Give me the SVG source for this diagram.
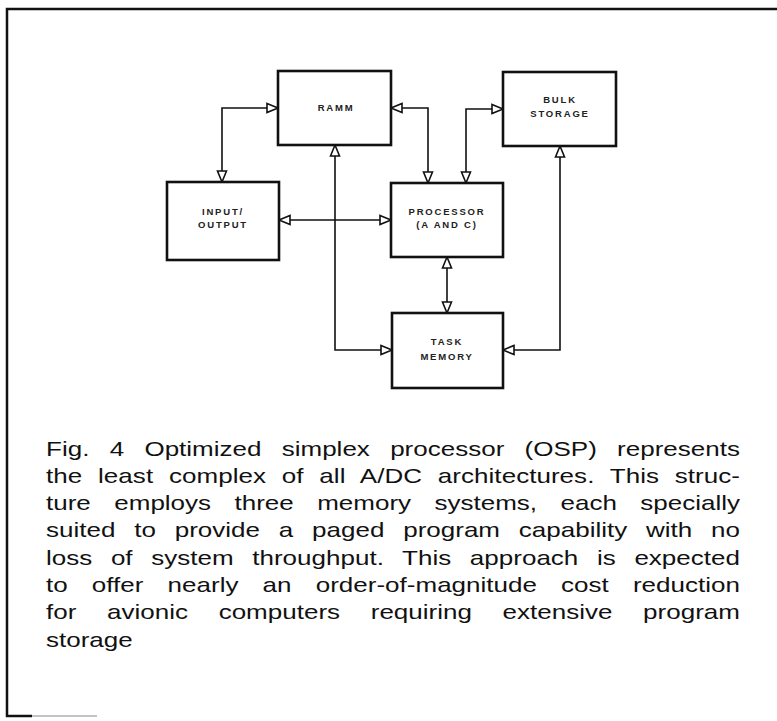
<svg xmlns="http://www.w3.org/2000/svg" width="777" height="721" viewBox="0 0 777 721">
<style>
.box{fill:#fff;stroke:#111;stroke-width:2.6}
.lbl{font-family:"Liberation Sans",Arial,sans-serif;font-size:9.5px;font-weight:bold;letter-spacing:1.8px;fill:#222;text-anchor:middle}
.conn{fill:none;stroke:#111;stroke-width:1.6;marker-start:url(#arr);marker-end:url(#arr)}
.cap{font-family:"Liberation Sans",Arial,sans-serif;font-size:20px;fill:#111}
.frame{fill:none;stroke:#111;stroke-width:2.5}
</style>
<defs>
<marker id="arr" viewBox="-1 -1 13 12" refX="11" refY="5" markerWidth="13" markerHeight="12" markerUnits="userSpaceOnUse" orient="auto-start-reverse" overflow="visible">
<path d="M0,0.5 L11,5 L0,9.5 Z" fill="#fff" stroke="#111" stroke-width="1.6"/>
</marker>
</defs>
<rect width="777" height="721" fill="#fff"/>
<g id="frame">
<path class="frame" d="M777,9 H7 V716 H32"/>
<path d="M32,716 H97" stroke="#888" stroke-width="1" fill="none"/>
</g>
<g id="connectors">
<path class="conn" d="M278,108 H222 V182"/>
<path class="conn" d="M391,108 H428 V183"/>
<path class="conn" d="M503,109 H466 V183"/>
<path class="conn" d="M335,145 V350 H392"/>
<path class="conn" d="M279,220 H391"/>
<path class="conn" d="M447,257 V313"/>
<path class="conn" d="M560,146 V350 H503"/>
</g>
<g id="ramm">
<rect class="box" x="278" y="71" width="113" height="74"/>
<text class="lbl" x="336" y="111">RAMM</text>
</g>
<g id="bulk">
<rect class="box" x="503" y="72" width="113" height="74"/>
<text class="lbl" x="560" y="103">BULK</text>
<text class="lbl" x="560" y="117">STORAGE</text>
</g>
<g id="io">
<rect class="box" x="167" y="182" width="112" height="78"/>
<text class="lbl" x="223" y="215">INPUT/</text>
<text class="lbl" x="223" y="228">OUTPUT</text>
</g>
<g id="processor">
<rect class="box" x="391" y="183" width="112" height="74"/>
<text class="lbl" x="447" y="215">PROCESSOR</text>
<text class="lbl" x="447" y="228">(A AND C)</text>
</g>
<g id="task">
<rect class="box" x="392" y="313" width="111" height="75"/>
<text class="lbl" x="447" y="345">TASK</text>
<text class="lbl" x="447" y="360">MEMORY</text>
</g>
<g id="caption" transform="scale(1.3 1)">
<text class="cap" x="35.4" y="456" word-spacing="10.06" textLength="533.8" lengthAdjust="spacing">Fig. 4 Optimized simplex processor (OSP) represents</text>
<text class="cap" x="35.4" y="483" word-spacing="6.57" textLength="533.8" lengthAdjust="spacing">the least complex of all A/DC architectures. This struc-</text>
<text class="cap" x="35.4" y="510" word-spacing="12.46" textLength="533.8" lengthAdjust="spacing">ture employs three memory systems, each specially</text>
<text class="cap" x="35.4" y="537" word-spacing="8.92" textLength="533.8" lengthAdjust="spacing">suited to provide a paged program capability with no</text>
<text class="cap" x="35.4" y="565" word-spacing="8.77" textLength="533.8" lengthAdjust="spacing">loss of system throughput. This approach is expected</text>
<text class="cap" x="35.4" y="592" word-spacing="13" textLength="533.8" lengthAdjust="spacing">to offer nearly an order-of-magnitude cost reduction</text>
<text class="cap" x="35.4" y="619" word-spacing="18.06" textLength="533.8" lengthAdjust="spacing">for avionic computers requiring extensive program</text>
<text class="cap" x="35.4" y="647">storage</text>
</g>
</svg>
